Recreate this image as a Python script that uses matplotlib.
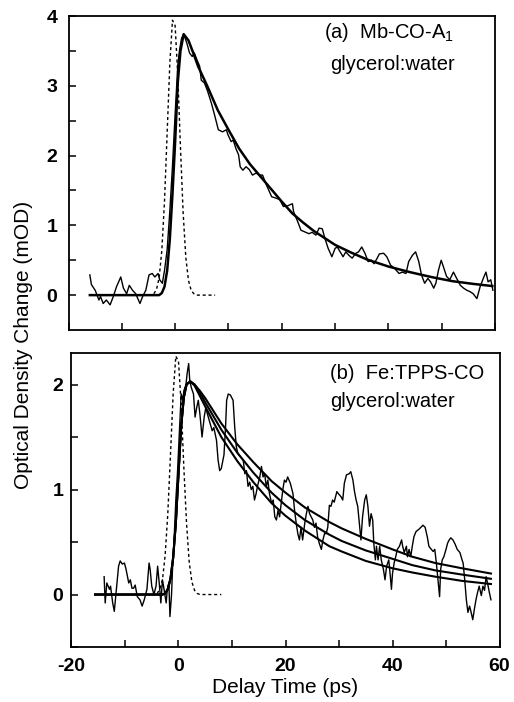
import matplotlib
matplotlib.use("Agg")
import matplotlib.pyplot as plt

plt.rcParams['font.family'] = ['Liberation Sans', 'DejaVu Sans']
plt.rcParams['mathtext.fontset'] = 'custom'
plt.rcParams['mathtext.rm'] = 'Liberation Sans'
plt.rcParams['mathtext.it'] = 'Liberation Sans'
plt.rcParams['axes.unicode_minus'] = False

# ---------------- panel (a) data ----------------
a_t = [-16.0, -15.7, -15.0, -14.3, -14.0, -13.5, -12.9, -12.2, -11.6, -11.0, -10.2, -9.7, -9.1, -8.6,
       -8.0, -7.4, -6.6, -6.1, -5.5, -4.9, -4.3, -3.8, -3.2, -2.9, -2.4, -2.0, -1.5, -1.0, -0.5, 0.0,
       0.5, 0.8, 1.2, 1.6, 2.2, 2.7, 3.2, 3.6, 4.1, 4.6, 4.9, 5.5, 6.1, 6.8, 7.4, 8.1, 8.9, 9.6, 9.9,
       10.5, 10.9, 11.4, 11.9, 12.2, 12.7, 13.3, 13.9, 14.5, 15.2, 15.8, 16.4, 17.0, 17.7, 18.1, 18.9,
       19.6, 20.3, 21.1, 22.0, 22.2, 23.0, 23.6, 24.2, 25.1, 25.7, 26.4, 27.0, 27.6, 28.1, 28.7, 29.4,
       30.0, 30.4, 31.1, 31.5, 32.0, 32.6, 33.2, 33.9, 34.4, 35.0, 35.6, 36.2, 36.8, 37.3, 37.9, 38.3,
       39.1, 39.7, 40.4, 41.2, 42.0, 42.6, 43.3, 43.8, 44.5, 45.1, 45.7, 46.2, 46.8, 47.4, 47.9, 48.5,
       48.9, 49.4, 49.9, 50.3, 50.9, 51.5, 52.2, 52.8, 53.5, 54.1, 54.7, 55.3, 55.9, 56.6, 57.2, 57.9,
       58.3, 58.7, 59.2, 59.6]
a_od = [0.29, 0.15, 0.07, -0.07, -0.02, -0.12, -0.07, -0.14, -0.02, 0.12, 0.26, 0.10, 0.02, 0.14,
        0.07, 0.02, -0.12, -0.02, 0.07, 0.29, 0.31, 0.26, 0.31, 0.22, 0.17, 0.35, 0.65, 1.2, 1.85, 2.6,
        3.3, 3.5, 3.68, 3.74, 3.61, 3.47, 3.42, 3.47, 3.37, 3.28, 3.08, 3.04, 2.92, 2.75, 2.58, 2.37,
        2.34, 2.37, 2.30, 2.20, 2.22, 2.10, 2.01, 1.84, 1.79, 1.84, 1.80, 1.72, 1.75, 1.72, 1.72, 1.60,
        1.48, 1.41, 1.39, 1.37, 1.27, 1.28, 1.31, 1.20, 1.05, 0.93, 0.91, 0.88, 0.90, 0.86, 0.96, 0.95,
        0.81, 0.67, 0.55, 0.67, 0.69, 0.60, 0.55, 0.62, 0.57, 0.53, 0.60, 0.62, 0.69, 0.60, 0.48, 0.50,
        0.45, 0.53, 0.59, 0.60, 0.55, 0.43, 0.38, 0.31, 0.33, 0.31, 0.48, 0.57, 0.62, 0.48, 0.29, 0.17,
        0.24, 0.19, 0.10, 0.17, 0.36, 0.50, 0.41, 0.27, 0.22, 0.33, 0.24, 0.14, 0.10, 0.07, 0.05, 0.02,
        -0.05, 0.12, 0.26, 0.33, 0.19, 0.22, 0.07]

a_fit_t = [-16, -4, -3, -2.5, -2, -1.5, -1, -0.5, 0, 0.5, 1, 1.6, 2.5, 3.5, 4.3, 6, 8, 10, 12, 14, 16,
           18, 20, 22, 24, 26, 28, 30, 33, 36, 40, 44, 48, 52, 56, 59.5]
a_fit = [0, 0, 0.0, 0.03, 0.12, 0.35, 0.8, 1.45, 2.2, 3.05, 3.5, 3.74, 3.65, 3.45, 3.28, 3.0, 2.65,
         2.37, 2.1, 1.88, 1.70, 1.52, 1.34, 1.17, 1.04, 0.92, 0.82, 0.72, 0.61, 0.51, 0.41, 0.33, 0.26,
         0.20, 0.16, 0.13]

a_pulse_t = [-4, -3.5, -3, -2.5, -2, -1.5, -1, -0.5, 0, 0.5, 1, 1.5, 2, 2.5, 3, 3.5, 4, 7.5]
a_pulse = [0.02, 0.08, 0.25, 0.64, 1.34, 2.32, 3.32, 3.94, 3.86, 3.14, 2.11, 1.18, 0.54, 0.21, 0.07,
           0.02, 0.0, 0.0]

# ---------------- panel (b) data ----------------
b_t = [-13.9, -13.7, -13.4, -12.9, -12.7, -12.3, -12.0, -11.5, -11.2, -10.9, -10.5, -10.1, -9.8, -9.3,
       -9.0, -8.7, -8.4, -8.1, -7.7, -7.2, -6.8, -6.4, -5.9, -5.5, -5.3, -5.0, -4.6, -4.2, -3.9, -3.6,
       -3.3, -3.0, -2.7, -2.3, -2.1, -1.8, -1.6, -1.3, -1.1, -0.8, -0.5, -0.2, 0.0, 0.3, 0.5, 0.8, 1.0,
       1.4, 1.6, 1.9, 2.1, 2.4, 2.8, 3.1, 3.4, 3.7, 4.0, 4.4, 4.8, 5.1, 5.4, 5.9, 6.3, 6.6, 7.1, 7.4,
       7.7, 8.0, 8.5, 8.8, 9.0, 9.3, 9.7, 10.2, 10.5, 10.8, 11.1, 11.6, 12.1, 12.4, 12.7, 13.0, 13.3,
       13.6, 13.9, 14.2, 14.5, 14.8, 15.2, 15.5, 15.8, 16.1, 16.4, 16.7, 17.0, 17.4, 17.7, 18.0, 18.3,
       18.6, 18.9, 19.2, 19.5, 19.8, 20.1, 20.4, 20.9, 21.4, 21.7, 22.0, 22.3, 22.6, 22.9, 23.2, 23.6,
       23.9, 24.2, 24.5, 24.8, 25.1, 25.4, 25.7, 26.0, 26.3, 26.7, 27.0, 27.3, 27.6, 27.9, 28.2, 28.5,
       28.8, 29.1, 29.6, 29.9, 30.4, 30.7, 31.0, 31.4, 31.9, 32.2, 32.6, 32.9, 33.2, 33.5, 33.8, 34.1,
       34.4, 34.8, 35.1, 35.4, 35.7, 36.0, 36.3, 36.5, 36.8, 37.0, 37.3, 37.6, 37.9, 38.3, 38.6, 38.9,
       39.3, 39.6, 39.8, 40.0, 40.3, 40.6, 40.9, 41.3, 41.7, 41.9, 42.2, 42.6, 42.8, 43.1, 43.4, 43.7,
       44.0, 44.4, 44.9, 45.3, 45.7, 46.1, 46.5, 46.8, 47.1, 47.6, 47.9, 48.2, 48.5, 48.8, 49.0, 49.3,
       49.6, 50.0, 50.3, 50.6, 50.9, 51.3, 51.7, 52.1, 52.6, 53.0, 53.2, 53.5, 53.8, 54.1, 54.4, 54.7,
       55.0, 55.3, 55.6, 55.9, 56.2, 56.6, 56.9, 57.2, 57.5, 57.8, 58.1, 58.4]
b_od = [0.17, -0.08, 0.11, 0.05, 0.08, -0.08, -0.16, 0.11, 0.27, 0.32, 0.29, 0.30, 0.24, 0.11,
        0.14, 0.06, 0.06, 0.09, -0.02, -0.05, -0.11, -0.05, 0.05, 0.30, 0.24, 0.08, 0.00, 0.08, 0.27, 0.11,
        -0.08, 0.14, 0.05, -0.08, 0.05, 0.11, -0.21, 0.00, 0.27, 0.55, 0.90, 1.15, 1.37, 1.69, 1.91, 1.85,
        1.94, 2.00, 2.10, 2.20, 2.04, 1.97, 1.91, 1.69, 1.78, 1.85, 1.72, 1.50, 1.69, 1.78, 1.72, 1.63,
        1.56, 1.59, 1.47, 1.28, 1.18, 1.20, 1.33, 1.60, 1.85, 1.91, 1.90, 1.85, 1.60, 1.41, 1.34, 1.31,
        1.28, 1.15, 1.18, 1.03, 1.07, 1.00, 1.03, 0.90, 0.96, 1.04, 1.12, 1.22, 1.12, 1.15, 1.03, 1.09,
        0.96, 0.87, 0.90, 0.74, 0.71, 0.80, 0.74, 0.87, 1.00, 1.09, 1.07, 1.12, 1.06, 0.96, 0.80, 0.68,
        0.58, 0.52, 0.64, 0.52, 0.68, 0.77, 0.84, 0.77, 0.74, 0.71, 0.64, 0.68, 0.55, 0.49, 0.43, 0.52,
        0.58, 0.58, 0.64, 0.85, 0.84, 0.90, 0.88, 0.98, 0.96, 0.93, 0.90, 1.06, 1.14, 1.15, 1.17, 1.09,
        0.98, 0.90, 0.84, 0.68, 0.52, 0.74, 0.90, 0.95, 0.84, 0.65, 0.77, 0.71, 0.49, 0.33, 0.46, 0.33,
        0.46, 0.33, 0.24, 0.14, 0.27, 0.33, 0.17, 0.05, 0.20, 0.30, 0.36, 0.43, 0.46, 0.52, 0.46, 0.40,
        0.46, 0.36, 0.43, 0.36, 0.46, 0.55, 0.60, 0.62, 0.64, 0.66, 0.64, 0.55, 0.46, 0.44, 0.41, 0.43,
        0.30, 0.14, -0.02, 0.24, 0.33, 0.36, 0.43, 0.49, 0.52, 0.54, 0.52, 0.48, 0.43, 0.40, 0.33, 0.30,
        0.14, -0.05, -0.17, -0.11, -0.17, -0.24, -0.14, -0.05, 0.02, 0.08, -0.01, 0.08, 0.04, 0.17, 0.10,
        0.02, -0.05]

b_fit_t = [-15.6, -3, -2.5, -2, -1.5, -1, -0.5, 0, 0.5, 1, 1.5, 2.2, 3, 4, 5, 8, 11, 14, 17.4, 20, 23.6,
           28.2, 30.5, 35, 40, 43.7, 48, 53, 58.4]
b_fit_hi = [0, 0, 0.01, 0.05, 0.15, 0.35, 0.68, 1.15, 1.6, 1.88, 2.0, 2.03, 2.0, 1.94, 1.87, 1.63, 1.43,
            1.26, 1.08, 0.97, 0.83, 0.69, 0.63, 0.53, 0.43, 0.36, 0.30, 0.25, 0.20]
b_fit_mid = [0, 0, 0.01, 0.05, 0.15, 0.35, 0.68, 1.15, 1.6, 1.88, 2.0, 2.03, 2.0, 1.92, 1.83, 1.57, 1.35,
             1.16, 0.97, 0.85, 0.71, 0.57, 0.51, 0.42, 0.34, 0.28, 0.23, 0.19, 0.15]
b_fit_lo = [0, 0, 0.01, 0.05, 0.15, 0.35, 0.68, 1.15, 1.6, 1.88, 2.0, 2.03, 1.99, 1.89, 1.79, 1.50, 1.27,
            1.07, 0.87, 0.75, 0.61, 0.46, 0.41, 0.32, 0.25, 0.21, 0.17, 0.13, 0.10]

b_pulse_t = [-4, -3.5, -3, -2.5, -2, -1.5, -1, -0.5, 0, 0.5, 1, 1.5, 2, 2.5, 3, 3.5, 4, 8]
b_pulse = [0.01, 0.05, 0.14, 0.37, 0.77, 1.33, 1.91, 2.27, 2.22, 1.81, 1.21, 0.68, 0.31, 0.12, 0.04,
           0.01, 0.0, 0.0]

x_major = [-20, 0, 20, 40, 60]
x_minor = [-10, 10, 30, 50]
a_yticks = [0, 1, 2, 3, 4]
a_yminor = [0.5, 1.5, 2.5, 3.5]
b_yticks = [0, 1, 2]
b_yminor = [-0.5, 0.5, 1.5]

# ---------------- drawing ----------------
fig = plt.figure(figsize=(5.14, 7.02), dpi=100)
ax1 = fig.add_axes([0.1333, 0.5299, 0.8298, 0.4473])
ax2 = fig.add_axes([0.1391, 0.0783, 0.8327, 0.4188])

dash = (0, (2.2, 2.0))
for ax in (ax1, ax2):
    for sp in ax.spines.values():
        sp.set_linewidth(1.3)
    ax.set_xlim(-20, 60)
    ax.set_xticks(x_major)
    ax.set_xticks(x_minor, minor=True)
    ax.tick_params(axis='both', which='both', direction='in', top=False, right=False,
                   labelsize=14, width=1.1, length=5)

# panel (a)
ax1.plot(a_pulse_t, a_pulse, color='black', lw=1.0, ls=dash)
ax1.plot(a_t, a_od, color='black', lw=1.0)
ax1.plot(a_fit_t, a_fit, color='black', lw=1.8)
ax1.set_ylim(-0.5, 4.0)
ax1.set_yticks(a_yticks)
ax1.set_yticks(a_yminor, minor=True)
ax1.tick_params(axis='x', labelbottom=False)
ax1.tick_params(axis='y', pad=8)
ax1.text(0.60, 0.946, r'(a)  Mb-CO-A$_1$', transform=ax1.transAxes, fontsize=14.5, va='center', ha='left')
ax1.text(0.613, 0.844, 'glycerol:water', transform=ax1.transAxes, fontsize=14.5, va='center', ha='left')

# panel (b)
ax2.plot(b_pulse_t, b_pulse, color='black', lw=1.0, ls=dash)
ax2.plot(b_t, b_od, color='black', lw=1.0)
for f in (b_fit_hi, b_fit_mid, b_fit_lo):
    ax2.plot(b_fit_t, f, color='black', lw=1.5)
ax2.set_ylim(-0.5, 2.3)
ax2.set_yticks(b_yticks)
ax2.set_yticks(b_yminor, minor=True)
ax2.tick_params(axis='y', pad=6)
ax2.tick_params(axis='x', pad=8)
ax2.text(0.604, 0.931, '(b)  Fe:TPPS-CO', transform=ax2.transAxes, fontsize=14.5, va='center', ha='left')
ax2.text(0.604, 0.835, 'glycerol:water', transform=ax2.transAxes, fontsize=14.5, va='center', ha='left')
ax2.set_xlabel('Delay Time (ps)', fontsize=15, labelpad=2)

for ax in (ax1, ax2):
    for lab in ax.get_xticklabels() + ax.get_yticklabels():
        lab.set_fontweight('bold')

fig.text(0.045, 0.509, 'Optical Density Change (mOD)', rotation=90, fontsize=15, va='center', ha='center')

fig.savefig('out.png', dpi=100)
